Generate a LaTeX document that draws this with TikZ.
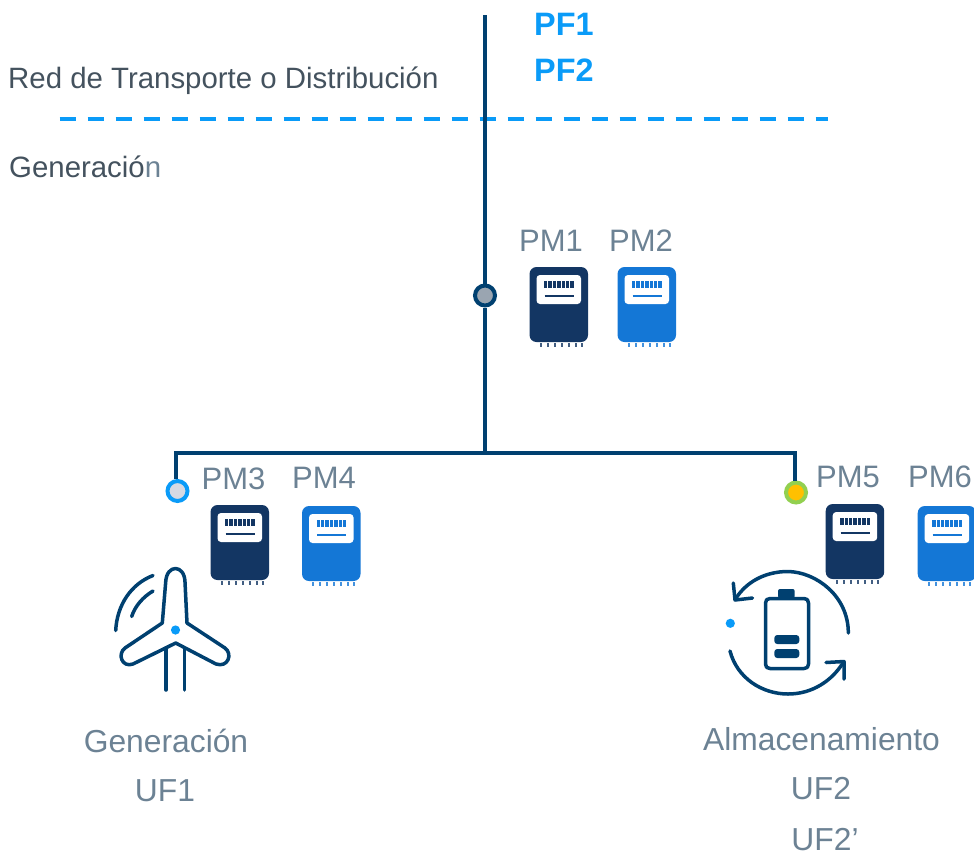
\documentclass[tikz,border=0pt]{standalone}
\usepackage{fontspec}
\setmainfont{Liberation Sans}
\definecolor{linecol}{HTML}{004070}
\definecolor{meterdark}{HTML}{133663}
\definecolor{meterblue}{HTML}{1477D6}
\definecolor{brightblue}{HTML}{0A9BF8}
\definecolor{labelgrey}{HTML}{6C8294}
\definecolor{textdark}{HTML}{44525E}
\tikzset{
  x=1pt,y=-1pt,
  busline/.style={draw=linecol,line width=3.8pt},
  iconline/.style={draw=linecol,line width=3.5pt,line cap=round,line join=round},
  lab/.style={inner sep=0pt,text=labelgrey,font=\fontsize{31}{34}\selectfont,anchor=base},
  biglab/.style={lab,font=\fontsize{31.8}{36}\selectfont},
  dark/.style={inner sep=0pt,text=textdark,font=\fontsize{29.4}{34}\selectfont,anchor=base west},
  pf/.style={inner sep=0pt,text=brightblue,font=\fontsize{32.4}{36}\selectfont\bfseries,anchor=base west},
  junction/.style={circle,inner sep=0pt,minimum size=20pt,line width=4pt},
}
\newcommand{\metericon}[3]{%
  \begin{scope}[shift={(#1,#2)}]
    \fill[#3,rounded corners=7pt] (0,0) rectangle (58.5,75);
    \fill[white,rounded corners=3.5pt] (7,8) rectangle (51.5,37);
    \foreach \dx in {14.5,18.9,23.3,27.7,32.1,36.5,40.9} \fill[#3] (\dx,13.5) rectangle +(3.4,7.2);
    \draw[#3,line width=1.6pt] (15,29) -- (44,29);
    \foreach \dx in {10,17,24,31,38,45,51} \fill[#3!80!white] (\dx,76) rectangle +(2,4);
  \end{scope}}
\begin{document}
\begin{tikzpicture}
\useasboundingbox (0,0) rectangle (974,852);
% junctions and bus ends
\coordinate (top) at (485,15);
\coordinate (tee) at (485,453);
\coordinate (busL) at (176,453);
\coordinate (busR) at (795,453);
\coordinate (dashA) at (59.5,119);
\coordinate (dashB) at (828,119);
\draw[brightblue,line width=3.6pt,dash pattern=on 16pt off 12pt] (dashA) -- (dashB);
\node[junction,draw=linecol,fill={rgb,255:red,154;green,165;blue,177}] (j1) at (485,295.5) {};
\node[junction,draw=brightblue,fill={rgb,255:red,213;green,217;blue,227}] (j2) at (177.5,491) {};
\node[junction,draw={rgb,255:red,146;green,208;blue,80},fill={rgb,255:red,255;green,192;blue,0}] (j3) at (796,492.5) {};
\draw[busline] (top) -- (j1);
\draw[busline] (j1) -- (tee);
\draw[busline] (j2.north -| busL) |- (busR) -- (j3.north -| busR);
% meters
\metericon{529.5}{267}{meterdark}
\metericon{617.5}{267}{meterblue}
\metericon{210.5}{505}{meterdark}
\metericon{302}{506}{meterblue}
\metericon{825.7}{504}{meterdark}
\metericon{917.7}{506}{meterblue}
% texts
\node[pf] (pf1) at (534,35) {PF1};
\node[pf] (pf2) at (534,81) {PF2};
\node[dark] (red) at (8,88) {Red de Transporte o Distribución};
\node[dark] (gen) at (9,177.5) {Generació\textcolor{labelgrey}{n}};
\node[lab] (pm1) at (551,251) {PM1};
\node[lab] (pm2) at (641,251) {PM2};
\node[lab] (pm3) at (233.5,489.3) {PM3};
\node[lab] (pm4) at (324,488) {PM4};
\node[lab] (pm5) at (848,487) {PM5};
\node[lab] (pm6) at (940,487) {PM6};
\node[biglab] (g1) at (166,752) {Generación};
\node[biglab] (u1) at (165,801.5) {UF1};
\node[biglab] (a1) at (821.5,750.5) {Almacenamiento};
\node[biglab] (u2) at (821,799) {UF2};
\node[biglab] (u3) at (825,850.5) {UF2’};
% wind turbine
\draw[iconline] (162.3,623) -- (165.7,582) .. controls (166.5,564) and (184.5,564) .. (185,582) -- (187,623)
  -- (225,648) .. controls (233,654) and (228,668) .. (216,664) -- (175.7,643) -- (133,664)
  .. controls (122,668) and (117,654) .. (125,648) -- cycle;
\draw[iconline] (166,648) -- (166,690);
\draw[iconline] (184.5,648) -- (184.5,690);
\draw[iconline] (153,575.5) .. controls (131,584) and (117,605) .. (115.7,630.5);
\draw[iconline] (153,591) .. controls (143,597) and (135,606) .. (131.7,616.5);
\fill[brightblue] (175.5,630) circle (4.6);
% battery and cycle
\draw[iconline] (770,598.5) -- (804,598.5) .. controls (807,598.5) and (808.5,600) .. (808.5,603) -- (808.5,664) .. controls (808.5,667) and (807,668.5) .. (804,668.5) -- (770,668.5) .. controls (767,668.5) and (765.5,667) .. (765.5,664) -- (765.5,603) .. controls (765.5,600) and (767,598.5) .. (770,598.5) -- cycle;
\fill[linecol,rounded corners=2pt] (778,589) rectangle (794.7,598);
\fill[linecol,rounded corners=3pt] (774.3,635) rectangle (799.3,644);
\fill[linecol,rounded corners=3pt] (774.3,649) rectangle (799.3,658);
\draw[iconline] (848.3,633) .. controls (848.5,596) and (816,572) .. (788,571.5) .. controls (765,571.5) and (746,582) .. (735.5,599);
\draw[iconline] (733.3,583) -- (735,600) -- (752.5,598);
\draw[iconline] (730,651) .. controls (737,678) and (762,694) .. (788,694) .. controls (812,694) and (832,681) .. (843.5,662);
\draw[iconline] (826,662.5) -- (844,661.5) -- (844,679);
\fill[brightblue] (730.3,623.3) circle (4.6);
\end{tikzpicture}
\end{document}
